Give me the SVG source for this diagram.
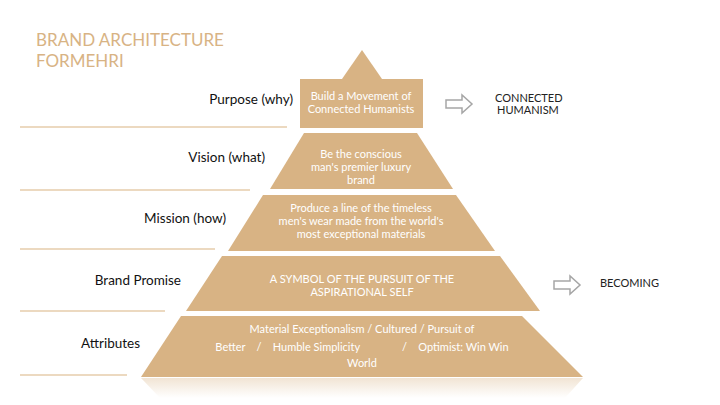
<svg xmlns="http://www.w3.org/2000/svg" width="720" height="405" viewBox="0 0 720 405">
<defs>
<linearGradient id="refl" x1="0" y1="0" x2="0" y2="1"><stop offset="0" stop-color="#d8b384" stop-opacity="0.35"/><stop offset="1" stop-color="#d8b384" stop-opacity="0"/></linearGradient>
</defs>
<style>
.t{fill:#d8b384}
.w{font-family:Lato,"Open Sans",sans-serif;font-size:11px;fill:#fff;text-anchor:middle}
.l{font-family:Lato,"Open Sans",sans-serif;font-size:13.5px;fill:#111;text-anchor:end}
.r{font-family:Lato,"Open Sans",sans-serif;font-size:11px;fill:#222}
.ln{stroke:#ecd9c0;stroke-width:2}
.ar{fill:#fff;stroke:#a6a6a6;stroke-width:1.5}
</style>
<rect width="720" height="405" fill="#fff"/>
<text x="36" y="46" font-family="Lato,sans-serif" font-size="17" fill="#d8b384">BRAND ARCHITECTURE</text>
<text x="36" y="67" font-family="Lato,sans-serif" font-size="17" fill="#d8b384">FORMEHRI</text>
<g id="lines">
<line class="ln" x1="20" y1="127" x2="287" y2="127"/>
<line class="ln" x1="20" y1="190" x2="250" y2="190"/>
<line class="ln" x1="20" y1="249" x2="215" y2="249"/>
<line class="ln" x1="20" y1="311" x2="165" y2="311"/>
<line class="ln" x1="20" y1="375" x2="127" y2="375"/>
</g>
<g id="purpose">
<polygon class="t" points="362,50 382,79 342,79"/>
<rect class="t" x="300" y="79" width="123" height="49"/>
<text class="w" x="361" y="100">Build a Movement of</text>
<text class="w" x="361" y="113">Connected Humanists</text>
<text class="l" x="293" y="104">Purpose (why)</text>
</g>
<g id="vision">
<polygon class="t" points="304,133 417,133 453,189 270,189"/>
<text class="w" x="361" y="158">Be the conscious</text>
<text class="w" x="361" y="171">man's premier luxury</text>
<text class="w" x="361" y="184">brand</text>
<text class="l" x="265" y="162">Vision (what)</text>
</g>
<g id="mission">
<polygon class="t" points="263,195 456,195 495,251 228,251"/>
<text class="w" x="361" y="212">Produce a line of the timeless</text>
<text class="w" x="361" y="225">men's wear made from the world's</text>
<text class="w" x="361" y="238">most exceptional materials</text>
<text class="l" x="226" y="223">Mission (how)</text>
</g>
<g id="promise">
<polygon class="t" points="222,256 500,256 540,311 186,311"/>
<text class="w" x="362" y="283">A SYMBOL OF THE PURSUIT OF THE</text>
<text class="w" x="362" y="296">ASPIRATIONAL SELF</text>
<text class="l" x="181" y="285">Brand Promise</text>
</g>
<g id="attributes">
<polygon class="t" points="181,316 522,316 583,377 141,377"/>
<polygon fill="url(#refl)" points="141,378 583,378 565,398 160,398"/>
<text class="w" x="362" y="333">Material Exceptionalism    /     Cultured       /      Pursuit of</text>
<text class="w" x="362" y="351" xml:space="preserve">Better    /    Humble Simplicity               /    Optimist: Win Win</text>
<text class="w" x="362" y="367">World</text>
<text class="l" x="140" y="348">Attributes</text>
</g>
<g id="connectors">
<polygon class="ar" points="446,100 462,100 462,95 472,104 462,113 462,108 446,108"/>
<polygon class="ar" points="554,281 570,281 570,276 580,285 570,294 570,289 554,289"/>
</g>
<g id="outcomes">
<text class="r" x="495" y="102">CONNECTED</text>
<text class="r" x="497" y="114">HUMANISM</text>
<text class="r" x="600" y="287">BECOMING</text>
</g>
</svg>
